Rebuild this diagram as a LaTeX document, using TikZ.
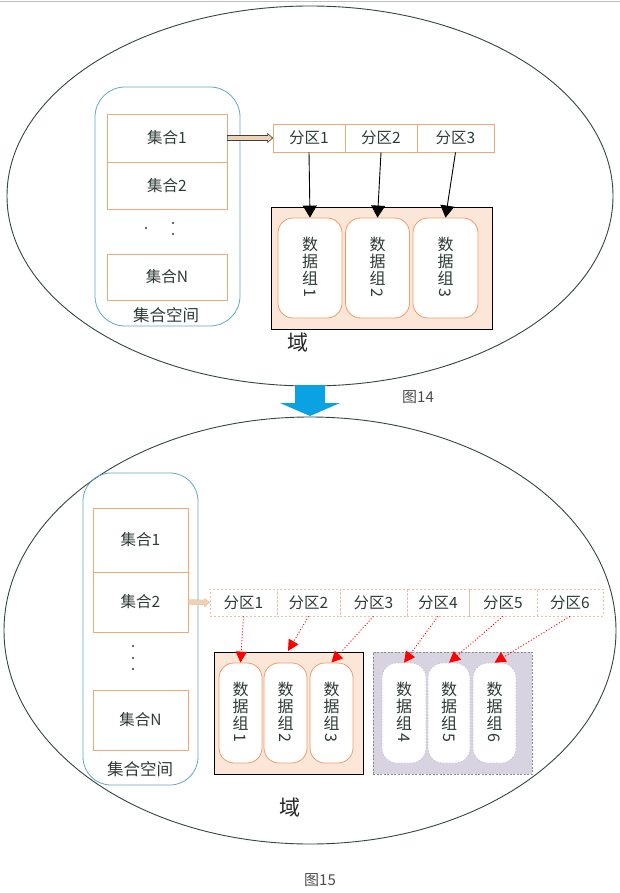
\documentclass[tikz,border=0pt]{standalone}
\usepackage{fontspec}
\usepackage{graphicx}
\newfontfamily\cjk{Noto Sans CJK SC}
\usetikzlibrary{arrows.meta,calc}
\definecolor{ell}{HTML}{34463E}
\definecolor{blueb}{HTML}{62A8C4}
\definecolor{orb}{HTML}{F0A878}
\definecolor{dgb}{HTML}{EE9C68}
\definecolor{peach}{HTML}{FCE6D8}
\definecolor{lav}{HTML}{D8D3E0}
\definecolor{lavb}{HTML}{C6C0D0}
\definecolor{txt}{HTML}{2F3B38}
\definecolor{arrblue}{HTML}{0AA2E2}
\definecolor{tanf}{HTML}{EDD3B6}
\definecolor{pdash}{HTML}{F2BCA8}
\definecolor{grayd}{HTML}{8C8C8C}
\newcommand{\rdig}[1]{\\[-3pt]\rotatebox[origin=c]{-90}{#1}}
\tikzset{
  spacebox/.style={draw=blueb, line width=0.8pt, inner sep=0pt},
  setbox/.style={draw=orb, line width=0.8pt, inner sep=0pt, minimum width=120pt, text=txt, font=\cjk\fontsize{15.5}{17}\selectfont},
  pcell/.style={draw=orb, line width=0.7pt, inner sep=0pt, minimum height=28pt, text=txt, font=\cjk\fontsize{15.5}{17}\selectfont},
  pcelld/.style={draw=pdash, line width=0.6pt, dash pattern=on 2pt off 2pt, inner sep=0pt, minimum height=27pt, text=txt, font=\cjk\fontsize{15.5}{17}\selectfont},
  dombox/.style={draw=black, line width=0.8pt, fill=peach, inner sep=0pt, minimum height=122pt},
  dombox2/.style={draw=grayd, line width=0.6pt, dash pattern=on 2pt off 1.5pt, fill=lav, inner sep=0pt, minimum height=122pt},
  dgroup/.style={draw=dgb, line width=0.8pt, fill=white, rounded corners=15pt, inner sep=0pt, minimum height=100pt, align=center, text=txt, font=\cjk\fontsize{16}{17}\selectfont},
  dgroupd/.style={draw=lavb, line width=0.6pt, dash pattern=on 1.5pt off 1.5pt, fill=white, rounded corners=15pt, inner sep=0pt, minimum height=100pt, align=center, text=txt, font=\cjk\fontsize{16}{17}\selectfont},
  lbl/.style={inner sep=0pt, text=txt, font=\cjk\fontsize{16.5}{18}\selectfont},
  biglbl/.style={inner sep=0pt, text=black!85, font=\cjk\fontsize{21}{23}\selectfont},
  figlbl/.style={inner sep=0pt, text=black!70, font=\cjk\fontsize{15}{17}\selectfont},
  blackarr/.style={draw=black, line width=0.9pt, -{Triangle[length=12pt,width=14pt]}},
  redarr/.style={draw=red, line width=0.9pt, dash pattern=on 1pt off 2pt, -{Triangle[length=11pt,width=11pt]}},
  blockarr/.style={draw=black!75, line width=0.6pt, fill=tanf},
  blockarrd/.style={draw=orb, line width=0.6pt, dash pattern=on 1pt off 1pt, fill=tanf},
}
\begin{document}
\begin{tikzpicture}[x=1pt,y=-1pt]
\useasboundingbox (0,0) rectangle (620,893);
\fill[white] (0,0) rectangle (620,893);
\draw[black!25, line width=0.8pt] (0,1) -- (620,1);

% ellipses
\draw[ell, line width=0.9pt] (310,196) ellipse [x radius=303pt, y radius=190pt];
\draw[ell, line width=0.9pt] (310,630.5) ellipse [x radius=306pt, y radius=213.5pt];

% ===== Figure 14 =====
\node[spacebox, rounded corners=30pt, minimum width=145pt, minimum height=239pt] (sp1) at (167.5,206.5) {};
\node[setbox, minimum height=48pt] (a1) at (167,138) {集合1};
\node[setbox, minimum height=47pt] (a2) at (167,185.5) {集合2};
\node[setbox, minimum height=46pt] (aN) at (167,277) {集合N};
\fill[txt] (146,228) circle (1.1pt);
\fill[txt] (173,223) circle (1.1pt);
\fill[txt] (173,234) circle (1.1pt);
\node[lbl] (sl1) at (166,315) {集合空间};

\node[pcell, minimum width=72pt] (p1) at (309,138) {分区1};
\node[pcell, minimum width=72pt] (p2) at (381,138) {分区2};
\node[pcell, minimum width=77pt] (p3) at (455.5,138) {分区3};

\node[dombox, minimum width=221pt] (dom1) at (381.5,268) {};
\node[dgroup, minimum width=64pt] (d1) at (310,268) {数\\据\\组\rdig{1}};
\node[dgroup, minimum width=64pt] (d2) at (377.5,268) {数\\据\\组\rdig{2}};
\node[dgroup, minimum width=65pt] (d3) at (445.5,268) {数\\据\\组\rdig{3}};

\draw[blockarr] ($(a1.east)+(0,-2.5)$) -- ($(p1.west)+(-5,-2.5)$) -- ($(p1.west)+(-5,-4.5)$) -- (p1.west) -- ($(p1.west)+(-5,4.5)$) -- ($(p1.west)+(-5,2.5)$) -- ($(a1.east)+(0,2.5)$) -- cycle;

\draw[blackarr] (p1.south) -- (d1.north);
\draw[blackarr] (p2.south) -- (d2.north);
\draw[blackarr] (p3.south) -- (d3.north);

\node[biglbl] (y1) at (298,343) {域};
\node[figlbl] (f14) at (418,397) {图14};

% blue down arrow
\fill[arrblue] (295,385) -- (325,385) -- (325,403) -- (340,403) -- (310,416) -- (280,403) -- (295,403) -- cycle;

% ===== Figure 15 =====
\node[spacebox, rounded corners=28pt, minimum width=115pt, minimum height=312pt] (sp2) at (140.5,629) {};
\node[setbox, minimum width=95pt, minimum height=64pt] (b1) at (140.5,540) {集合1};
\node[setbox, minimum width=95pt, minimum height=60pt] (b2) at (140.5,602) {集合2};
\node[setbox, minimum width=95pt, minimum height=60pt] (bN) at (140.5,720) {集合N};
\fill[txt] (133,646) circle (1.1pt);
\fill[txt] (133,658) circle (1.1pt);
\fill[txt] (133,669) circle (1.1pt);
\node[lbl] (sl2) at (140,769) {集合空间};

\node[pcelld, minimum width=67pt] (q1) at (243.5,602.5) {分区1};
\node[pcelld, minimum width=63pt] (q2) at (308.5,602.5) {分区2};
\node[pcelld, minimum width=67pt] (q3) at (373.5,602.5) {分区3};
\node[pcelld, minimum width=62pt] (q4) at (438,602.5) {分区4};
\node[pcelld, minimum width=68pt] (q5) at (503,602.5) {分区5};
\node[pcelld, minimum width=66pt] (q6) at (570,602.5) {分区6};

\draw[blockarrd] ($(b2.east)+(0,-2.5)$) -- ($(q1.west)+(-5,-2.5)$) -- ($(q1.west)+(-5,-4)$) -- (q1.west) -- ($(q1.west)+(-5,4)$) -- ($(q1.west)+(-5,2.5)$) -- ($(b2.east)+(0,2.5)$) -- cycle;

\node[dombox, minimum width=149pt] (dom2) at (288.5,713) {};
\node[dombox2, minimum width=159pt] (dom3) at (452.5,713) {};
\node[dgroup, minimum width=43pt] (e1) at (240.5,713) {数\\据\\组\rdig{1}};
\node[dgroup, minimum width=43pt] (e2) at (285.5,713) {数\\据\\组\rdig{2}};
\node[dgroup, minimum width=43pt] (e3) at (331.5,713) {数\\据\\组\rdig{3}};
\node[dgroupd, minimum width=44pt] (e4) at (404,713) {数\\据\\组\rdig{4}};
\node[dgroupd, minimum width=42pt] (e5) at (449,713) {数\\据\\组\rdig{5}};
\node[dgroupd, minimum width=43pt] (e6) at (494.5,713) {数\\据\\组\rdig{6}};

\coordinate (t2) at (288,651);
\draw[redarr] (q1.south) -- (e1.north);
\draw[redarr] (q2.south) -- (t2);
\draw[redarr] (q3.south) -- (e3.north);
\draw[redarr] (q4.south) -- (e4.north);
\draw[redarr] (q5.south) -- (e5.north);
\draw[redarr] (q6.south) -- (e6.north);

\node[biglbl] (y2) at (290,808) {域};
\node[figlbl] (f15) at (320,880) {图15};
\end{tikzpicture}
\end{document}
